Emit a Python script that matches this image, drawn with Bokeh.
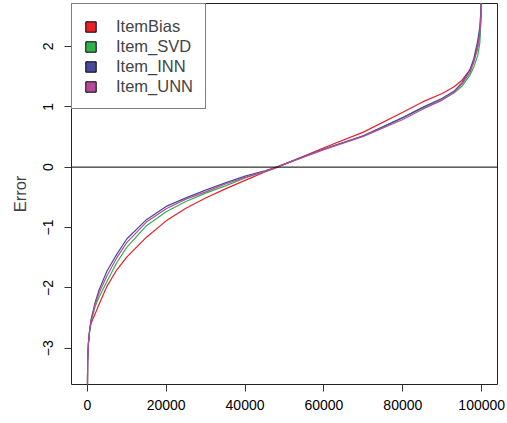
from bokeh.plotting import figure
from bokeh.models import Span, Legend, LegendItem, FixedTicker, Range1d
from bokeh.embed import file_html
from bokeh.resources import INLINE

# ---- data ----
x_pos = [0, 100, 300, 600, 1000, 2000, 3000, 5000, 7500, 10000, 15000, 20000,
         25000, 30000, 35000, 40000, 45000, 47500, 50000, 60000, 70000, 80000,
         85000, 90000, 93000, 95000, 97000, 98000, 99000, 99500, 99800, 100000]

item_bias = [-4.0, -3.20, -2.91, -2.71, -2.58, -2.43, -2.27, -1.97, -1.70, -1.49,
             -1.16, -0.89, -0.68, -0.51, -0.36, -0.22, -0.08, -0.02, 0.05, 0.32,
             0.58, 0.91, 1.08, 1.22, 1.33, 1.44, 1.61, 1.76, 2.02, 2.18, 2.50, 3.3]
item_svd = [-4.0, -3.20, -2.91, -2.71, -2.55, -2.31, -2.15, -1.89, -1.58, -1.33,
            -0.97, -0.74, -0.57, -0.43, -0.31, -0.18, -0.07, -0.01, 0.05, 0.30,
            0.52, 0.82, 0.98, 1.12, 1.23, 1.34, 1.52, 1.66, 1.85, 2.05, 2.40, 3.3]
item_inn = [-4.0, -3.20, -2.91, -2.70, -2.51, -2.24, -2.03, -1.72, -1.44, -1.19,
            -0.87, -0.65, -0.51, -0.38, -0.26, -0.15, -0.06, -0.01, 0.05, 0.30,
            0.52, 0.82, 0.99, 1.14, 1.26, 1.40, 1.61, 1.80, 2.10, 2.32, 2.60, 3.3]
item_unn = [-4.0, -3.20, -2.91, -2.70, -2.53, -2.27, -2.08, -1.80, -1.50, -1.25,
            -0.91, -0.69, -0.53, -0.41, -0.28, -0.17, -0.07, -0.01, 0.05, 0.29,
            0.51, 0.79, 0.96, 1.11, 1.24, 1.38, 1.56, 1.74, 1.97, 2.20, 2.50, 3.3]

series_names = ["ItemBias", "Item_SVD", "Item_INN", "Item_UNN"]
series_colors = ["#E8202A", "#2DB34A", "#4A4A9C", "#B84A9E"]

x_ticks = [0, 20000, 40000, 60000, 80000, 100000]
x_tick_labels = ["0", "20000", "40000", "60000", "80000", "100000"]
y_ticks = [-3, -2, -1, 0, 1, 2]
y_tick_labels = ["\u22123", "\u22122", "\u22121", "0", "1", "2"]

FONT = "Liberation Sans"

p = figure(width=507, height=423, output_backend="svg", toolbar_location=None,
           x_range=Range1d(-4000, 104000), y_range=Range1d(-3.60, 2.71),
           min_border_left=71, min_border_right=10, min_border_top=3,
           min_border_bottom=39)
p.background_fill_color = "white"
p.border_fill_color = "white"
p.grid.visible = False
p.outline_line_color = "#222222"
p.outline_line_width = 1

for ax in (p.xaxis[0], p.yaxis[0]):
    ax.axis_line_color = None
    ax.major_tick_in = 0
    ax.major_tick_out = 7
    ax.major_tick_line_color = "#333333"
    ax.minor_tick_line_color = None
    ax.major_label_text_font = FONT
    ax.major_label_text_font_size = "14px"
    ax.major_label_text_color = "black"

p.xaxis.ticker = FixedTicker(ticks=x_ticks)
p.xaxis.major_label_overrides = dict(zip(x_ticks, x_tick_labels))
p.xaxis.major_label_standoff = 8

p.yaxis.ticker = FixedTicker(ticks=y_ticks)
p.yaxis.major_label_overrides = dict(zip(y_ticks, y_tick_labels))
p.yaxis.major_label_orientation = "parallel"
p.yaxis.major_label_standoff = 11
p.yaxis.axis_label = "Error"
p.yaxis.axis_label_text_font = FONT
p.yaxis.axis_label_text_font_size = "16.5px"
p.yaxis.axis_label_text_font_style = "normal"
p.yaxis.axis_label_standoff = 12

p.add_layout(Span(location=0, dimension="width", line_color="black", line_width=1))

series = [item_bias, item_svd, item_inn, item_unn]
for name, col, ys in zip(series_names, series_colors, series):
    p.line(x_pos, ys, line_color=col, line_width=1.2)

# legend swatches: quads placed far outside the visible range (only their legend glyph shows)
items = []
for name, col in zip(series_names, series_colors):
    r = p.quad(left=[-1e9], right=[-1e9 + 1], top=[-1e3], bottom=[-1e3 - 1],
               fill_color=col, line_color="black", line_width=1)
    items.append(LegendItem(label=name, renderers=[r]))

legend = Legend(items=items, location="top_left", margin=0, padding=12,
                spacing=0, glyph_width=13, glyph_height=13, label_height=20,
                label_standoff=19, label_text_font=FONT,
                label_text_font_size="16.5px", label_text_baseline="middle",
                border_line_color="black", border_line_width=1,
                background_fill_color="white", background_fill_alpha=1)
p.add_layout(legend)

open("out.html", "w").write(file_html(p, INLINE))
